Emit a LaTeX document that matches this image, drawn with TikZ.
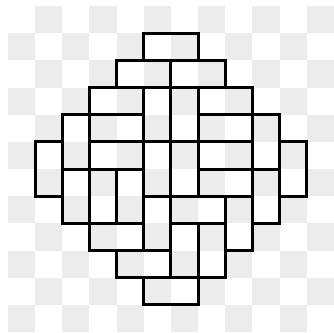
\documentclass[tikz,border=0pt]{standalone}
\usetikzlibrary{calc}
\definecolor{casillaGris}{RGB}{236,236,236}

\begin{document}
\begin{tikzpicture}[x=1cm, y=1cm,
    ficha/.style={draw=black, line width=3.1pt, line join=miter}]
    \useasboundingbox (-0.29,-0.02) rectangle (12,12.22);

    % TABLERO
    % Casillas grises alternadas
    \foreach \i in {0,...,11} {
        \foreach \j in {0,...,11} {
            \pgfmathtruncatemacro{\paridad}{mod(\i+\j,2)}
            \ifnum\paridad=0
                \fill[casillaGris] (\i,\j) rectangle ++(1,1);
            \fi
        }
    }

    % FICHAS
    % Horizontales (2x1)
    \foreach \x/\y in {5/10, 4/9, 6/9, 3/8, 7/8, 3/7, 7/7, 3/6, 7/6,
                       7/5, 6/4, 3/3, 4/2, 5/1}
        \draw[ficha] (\x,\y) rectangle ++(2,1);

    % Verticales (1x2)
    \foreach \x/\y in {5/7, 6/7, 2/6, 9/6, 1/5, 5/5, 6/5, 10/5,
                       2/4, 3/4, 4/4, 9/4, 5/3, 8/3, 6/2, 7/2}
        \draw[ficha] (\x,\y) rectangle ++(1,2);
\end{tikzpicture}
\end{document}
